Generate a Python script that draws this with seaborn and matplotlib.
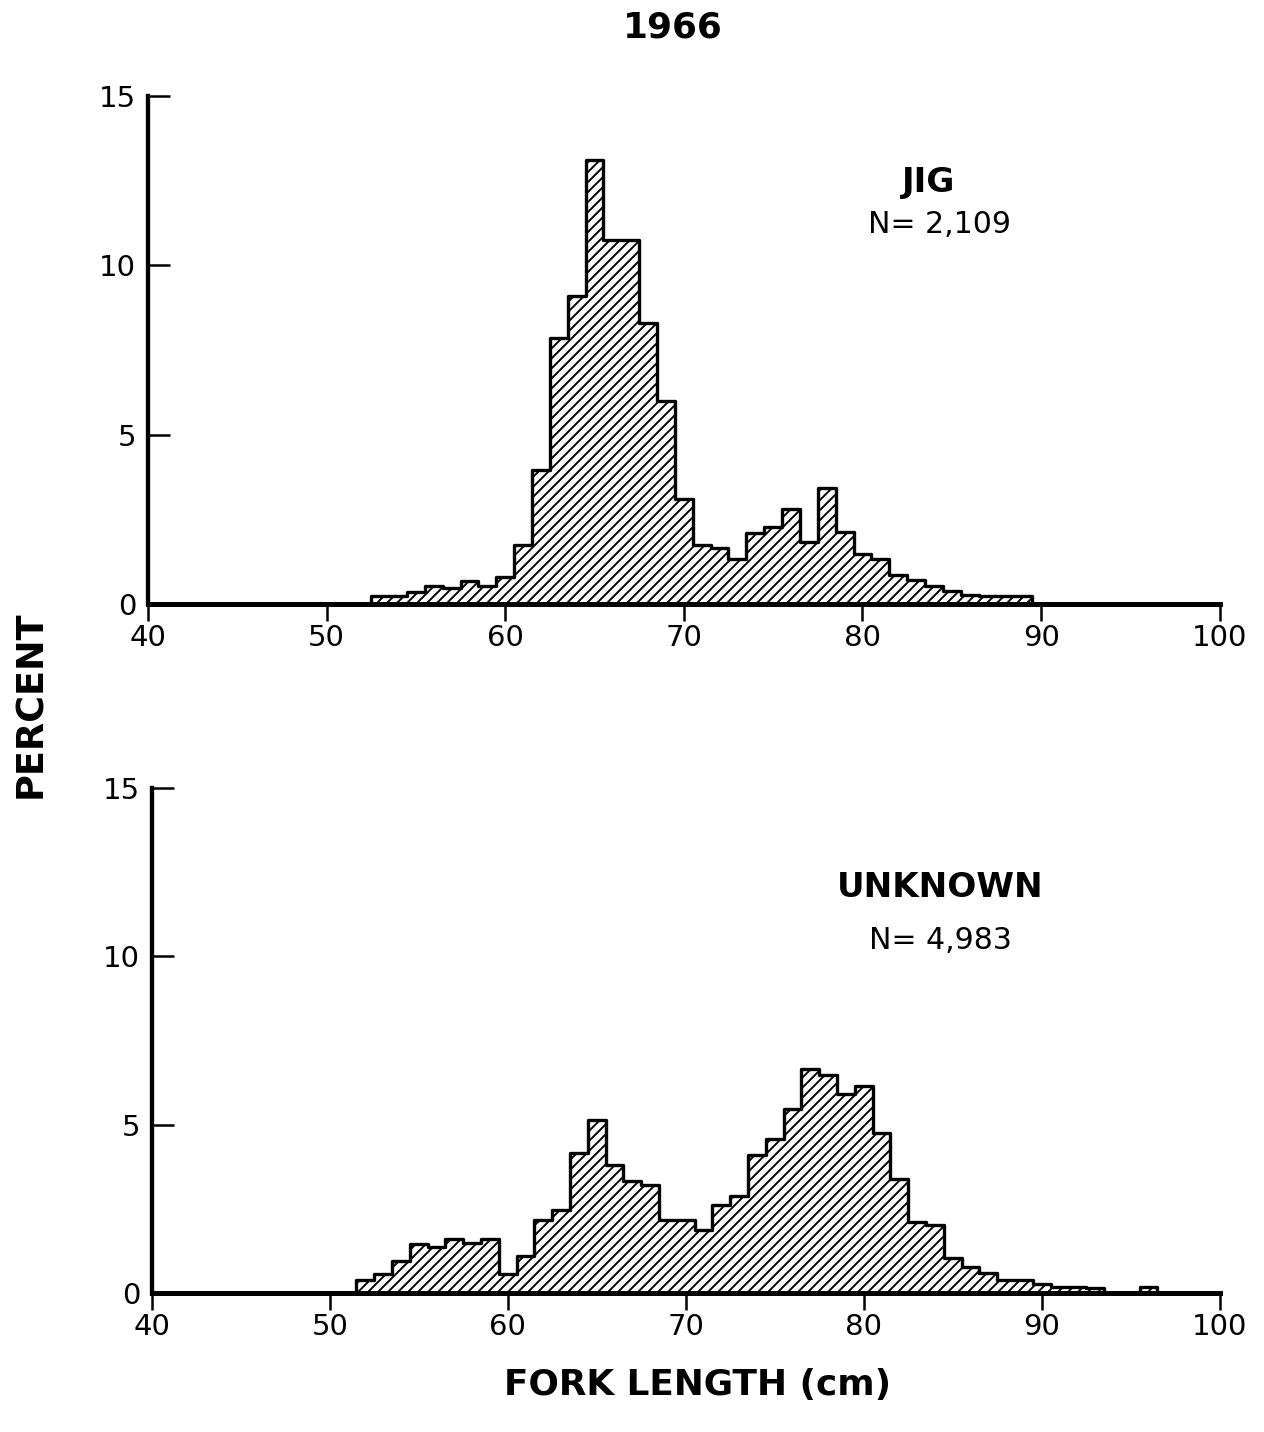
import numpy as np
import pandas as pd
import matplotlib
matplotlib.use("Agg")
import matplotlib.pyplot as plt
import seaborn as sns

# Length-frequency data (percent per 1-cm fork length class)
jig_length = list(range(53, 90))
jig_pct = [0.25, 0.25, 0.35, 0.53, 0.47, 0.70, 0.53, 0.80, 1.74, 3.95,
           7.85, 9.10, 13.10, 10.75, 10.75, 8.30, 6.00, 3.10, 1.74, 1.65,
           1.33, 2.10, 2.27, 2.80, 1.83, 3.43, 2.13, 1.47, 1.33, 0.86,
           0.71, 0.54, 0.38, 0.27, 0.25, 0.25, 0.25]

unknown_length = list(range(52, 97))
unknown_pct = [0.39, 0.58, 0.96, 1.47, 1.38, 1.62, 1.50, 1.62, 0.58, 1.10,
               2.16, 2.46, 4.15, 5.15, 3.80, 3.32, 3.20, 2.16, 2.16, 1.88,
               2.60, 2.87, 4.09, 4.58, 5.45, 6.66, 6.48, 5.90, 6.15, 4.76,
               3.40, 2.10, 2.02, 1.05, 0.76, 0.61, 0.40, 0.40, 0.28, 0.18,
               0.17, 0.15, 0.0, 0.0, 0.17]

x_ticks = [40, 50, 60, 70, 80, 90, 100]
y_ticks = [0, 5, 10, 15]

panels = [
    ("JIG", "N= 2,109", jig_length, jig_pct),
    ("UNKNOWN", "N= 4,983", unknown_length, unknown_pct),
]

sns.set_style("ticks")
plt.rcParams['font.family'] = ['DejaVu Sans']
plt.rcParams['hatch.linewidth'] = 1.15
# plain black ink, like the printed original
for key in ['text.color', 'axes.labelcolor', 'axes.edgecolor',
            'xtick.color', 'ytick.color']:
    plt.rcParams[key] = 'black'

DPI = 120
fig = plt.figure(figsize=(1264 / DPI, 1432 / DPI), dpi=DPI)

axes_rects = [
    [0.117, 0.578, 0.848, 0.355],
    [0.120, 0.097, 0.845, 0.353],
]
label_pos = [((83.7, 12.45), (84.3, 11.2)), ((84.3, 12.05), (84.3, 10.45))]


def draw_panel(ax, name, n_text, lengths, pct, pos):
    df = pd.DataFrame({"length": lengths, "pct": pct})
    # 1-cm classes centred on whole centimetres
    edges = list(np.arange(min(lengths) - 0.5, max(lengths) + 1.0, 1.0))
    sns.histplot(data=df, x="length", weights="pct", bins=edges,
                 element="step", fill=True, facecolor="white",
                 edgecolor="black", hatch="////", linewidth=2.0, ax=ax)
    ax.set_xlim(40, 100)
    ax.set_ylim(0, 15)
    ax.set_xticks(x_ticks)
    ax.set_yticks(y_ticks)
    ax.set_xlabel("")
    ax.set_ylabel("")
    for side in ["top", "right"]:
        ax.spines[side].set_visible(False)
    ax.spines["left"].set_linewidth(2.6)
    ax.spines["bottom"].set_linewidth(3.0)
    ax.tick_params(axis="y", direction="in", length=13, width=1.5,
                   pad=7, labelsize=17.5)
    ax.tick_params(axis="x", direction="out", length=10, width=1.5,
                   pad=2, labelsize=17.5)
    (nx, ny), (cx, cy) = pos
    ax.text(nx, ny, name, ha="center", va="center", fontsize=20.5,
            fontweight="bold")
    ax.text(cx, cy, n_text, ha="center", va="center", fontsize=18)


for rect, (name, n_text, lengths, pct), pos in zip(axes_rects, panels, label_pos):
    ax = fig.add_axes(rect)
    draw_panel(ax, name, n_text, lengths, pct, pos)

fig.text(0.532, 0.981, "1966", ha="center", va="center", fontsize=21.5,
         fontweight="bold")
fig.text(0.024, 0.508, "PERCENT", ha="center", va="center", rotation=90,
         fontsize=22, fontweight="bold")
fig.text(0.552, 0.033, "FORK LENGTH (cm)", ha="center", va="center",
         fontsize=21.5, fontweight="bold")

fig.savefig("out.png", dpi=DPI, facecolor="white")
